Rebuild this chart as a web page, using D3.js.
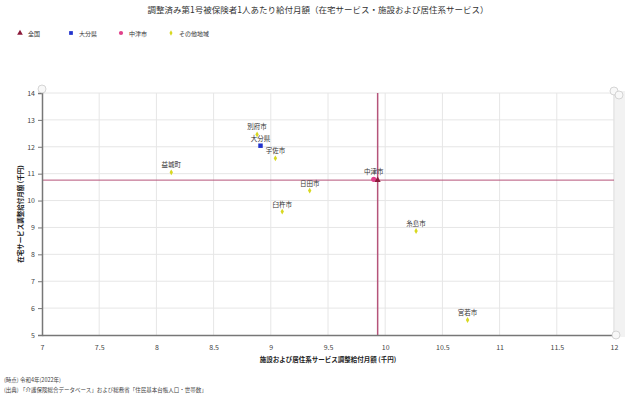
<!DOCTYPE html>
<html>
<head>
<meta charset="utf-8">
<script src="https://cdn.jsdelivr.net/npm/d3@7"></script>
<style>
  body { margin: 0; background: #fff; font-family: "Noto Sans CJK JP", sans-serif; }
</style>
</head>
<body>
<div id="chart"></div>
<script>
// Data
const seriesNames = ["全国", "大分県", "中津市", "その他地域"]
const seriesColors = ["#8b1a3a", "#2233cc", "#e0408a", "#d8d820"]

const otherNames = ["別府市", "宇佐市", "益城町", "日田市", "臼杵市", "糸島市", "宮若市"]
const otherX = [8.88, 9.04, 8.13, 9.34, 9.10, 10.27, 10.72]
const otherY = [12.46, 11.57, 11.05, 10.37, 9.59, 8.87, 5.56]

const nationX = 9.934, nationY = 10.76
const prefX = 8.91, prefY = 12.04
const cityX = 9.90, cityY = 10.79

const xTicks = [7, 7.5, 8, 8.5, 9, 9.5, 10, 10.5, 11, 11.5, 12]
const yTicks = [5, 6, 7, 8, 9, 10, 11, 12, 13, 14]

const W = 640, H = 398
const M = { left: 42, right: 26, top: 93, bottom: 63 }

const svg = d3.select("#chart").append("svg")
  .attr("width", W).attr("height", H)
  .style("font-family", "'Noto Sans CJK JP', sans-serif")

const x = d3.scaleLinear().domain([7, 12]).range([M.left, W - M.right])
const y = d3.scaleLinear().domain([5, 14]).range([H - M.bottom, M.top])

// title
svg.append("text").attr("x", 318).attr("y", 13).attr("text-anchor", "middle")
  .attr("font-size", 8.5).attr("fill", "#333")
  .text("調整済み第1号被保険者1人あたり給付月額（在宅サービス・施設および居住系サービス）")

// legend
const legendX = [20, 71, 121, 171]
seriesNames.forEach((name, i) => {
  const g = svg.append("g").attr("transform", `translate(${legendX[i]},33)`)
  const sym = [d3.symbolTriangle, d3.symbolSquare, d3.symbolCircle, d3.symbolDiamond][i]
  const size = [14, 14, 14, 8][i]
  g.append("path").attr("d", d3.symbol().type(sym).size(size)).attr("fill", seriesColors[i])
  g.append("text").attr("x", 8).attr("y", 2.5).attr("font-size", 6).attr("fill", "#333").text(name)
})

// grid
svg.append("g").selectAll("line").data(xTicks.slice(1)).join("line")
  .attr("x1", d => x(d)).attr("x2", d => x(d)).attr("y1", y(14)).attr("y2", y(5))
  .attr("stroke", "#e6e6e6").attr("stroke-width", 1)
svg.append("g").selectAll("line").data(yTicks.slice(1)).join("line")
  .attr("x1", x(7)).attr("x2", x(12)).attr("y1", d => y(d)).attr("y2", d => y(d))
  .attr("stroke", "#e6e6e6").attr("stroke-width", 1)

// scrollbar band on the right
svg.append("rect").attr("x", x(12)).attr("y", y(14) - 2).attr("width", 11).attr("height", y(5) - y(14) + 4)
  .attr("fill", "#f2f2f2")
svg.append("line").attr("x1", x(12)).attr("x2", x(12)).attr("y1", y(14)).attr("y2", y(5))
  .attr("stroke", "#e0e0e0")

// reference lines for 全国
svg.append("line").attr("x1", x(7)).attr("x2", x(12)).attr("y1", y(nationY)).attr("y2", y(nationY))
  .attr("stroke", "#b5547a").attr("stroke-width", 1)
svg.append("line").attr("x1", x(nationX)).attr("x2", x(nationX)).attr("y1", y(14)).attr("y2", y(5))
  .attr("stroke", "#b5547a").attr("stroke-width", 1.5)

// axes
const xAxis = svg.append("g").attr("transform", `translate(0,${y(5)})`)
  .call(d3.axisBottom(x).tickValues(xTicks).tickSize(0).tickPadding(10).tickFormat(d3.format("")))
xAxis.select(".domain").attr("stroke", "#777").attr("stroke-width", 1.5)
const yAxis = svg.append("g").attr("transform", `translate(${x(7)},0)`)
  .call(d3.axisLeft(y).tickValues(yTicks).tickSize(4).tickPadding(3))
yAxis.select(".domain").attr("stroke", "#777").attr("stroke-width", 1.5)
yAxis.selectAll(".tick line").attr("stroke", "#777")
svg.selectAll(".tick text").attr("font-size", 7).attr("fill", "#444")
  .style("font-family", "'Noto Sans CJK JP', sans-serif")

// axis titles
svg.append("text").attr("x", 328).attr("y", 362).attr("text-anchor", "middle")
  .attr("font-size", 6.5).attr("font-weight", "bold").attr("fill", "#222")
  .text("施設および居住系サービス調整給付月額 (千円)")
svg.append("text").attr("transform", `translate(23,${(y(5) + y(14)) / 2}) rotate(-90)`)
  .attr("text-anchor", "middle").attr("font-size", 6.5).attr("font-weight", "bold").attr("fill", "#222")
  .text("在宅サービス調整給付月額 (千円)")

// zoom handles
const handles = [[x(7), y(14) - 4], [x(12), y(14) - 2], [x(12) + 5, y(14) + 2], [x(12) + 2, y(5)]]
svg.append("g").selectAll("circle").data(handles).join("circle")
  .attr("cx", d => d[0]).attr("cy", d => d[1]).attr("r", 4)
  .attr("fill", "#f8f8f8").attr("stroke", "#ccc").attr("stroke-width", 0.8)

// points: その他地域
const labelStyle = sel => sel.attr("font-size", 6.5).attr("fill", "#333").attr("text-anchor", "middle")
otherNames.forEach((name, i) => {
  svg.append("path").attr("transform", `translate(${x(otherX[i])},${y(otherY[i])})`)
    .attr("d", d3.symbol().type(d3.symbolDiamond).size(10)).attr("fill", seriesColors[3])
  svg.append("text").attr("x", x(otherX[i])).attr("y", y(otherY[i]) - 5).call(labelStyle).text(name)
})

// 大分県
svg.append("path").attr("transform", `translate(${x(prefX)},${y(prefY)})`)
  .attr("d", d3.symbol().type(d3.symbolSquare).size(20)).attr("fill", seriesColors[1])
svg.append("text").attr("x", x(prefX)).attr("y", y(prefY) - 5).call(labelStyle).text("大分県")

// 中津市
svg.append("circle").attr("cx", x(cityX)).attr("cy", y(cityY)).attr("r", 2.6).attr("fill", seriesColors[2])
svg.append("text").attr("x", x(cityX)).attr("y", y(cityY) - 5).call(labelStyle).text("中津市")

// 全国
svg.append("path").attr("transform", `translate(${x(nationX)},${y(nationY)})`)
  .attr("d", d3.symbol().type(d3.symbolTriangle).size(16)).attr("fill", seriesColors[0])

// footnotes
svg.append("text").attr("x", 4).attr("y", 382).attr("font-size", 5.5).attr("fill", "#444")
  .text("(時点) 令和4年(2022年)")
svg.append("text").attr("x", 4).attr("y", 392).attr("font-size", 5.5).attr("fill", "#444")
  .text("(出典) 「介護保険総合データベース」および総務省「住民基本台帳人口・世帯数」")
</script>
</body>
</html>
